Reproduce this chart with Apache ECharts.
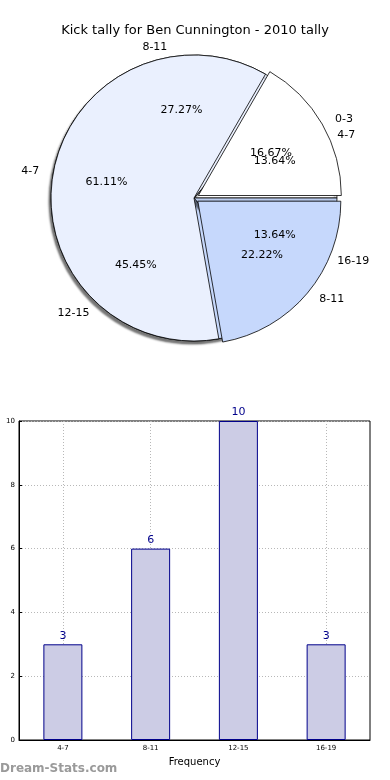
<!DOCTYPE html>
<html><head><meta charset="utf-8">
<script src="https://cdn.jsdelivr.net/npm/echarts@6/dist/echarts.min.js"></script>
<style>html,body{margin:0;padding:0;background:#fff}#c{width:390px;height:780px}</style>
</head><body><div id="c"></div>
<script>
// Pie A: kick tally ranges (same as bar chart)
const kickRanges = ['4-7', '8-11', '12-15', '16-19'];
const kickCounts = [3, 6, 10, 3];
// Pie B: second overlaid tally
const otherRanges = ['0-3', '4-7', '8-11'];
const otherCounts = [3, 11, 4];
// Bar chart ticks
const yTicks = [0, 2, 4, 6, 8, 10];

const LIGHT = '#eaf0fe', BLUE = '#c6d8fc', WHITE = '#ffffff';
const colorsA = [WHITE, LIGHT, BLUE, BLUE];
const colorsB = [WHITE, LIGHT, BLUE];
const explodeB = [true, false, true];

const C = [194, 198], R = 143;
const font = 'DejaVu Sans';

function pieData(names, vals, colors, sel) {
  return names.map((n, i) => ({
    name: n, value: vals[i],
    selected: sel ? sel[i] : false,
    itemStyle: { color: colors ? colors[i] : 'rgba(0,0,0,0)' }
  }));
}
const pct = p => p.percent.toFixed(2) + '%';
const outsideLabel = { show: true, position: 'outside', color: '#000', fontSize: 11, fontFamily: font };
const noLine = { show: false, length: 9, length2: 0 };
const pctLabel = { show: true, position: 'inside', formatter: pct, color: '#000', fontSize: 11, fontFamily: font, overflow: 'none' };

const chart = echarts.init(document.getElementById('c'), null, { renderer: 'canvas' });
chart.setOption({
  animation: false,
  title: {
    text: 'Kick tally for Ben Cunnington - 2010 tally',
    left: 'center', top: 19,
    textStyle: { fontSize: 13, fontWeight: 'normal', color: '#000', fontFamily: font }
  },
  grid: { left: 19, right: 20, top: 421, bottom: 40, show: true, borderColor: '#000', borderWidth: 1, outerBoundsMode: 'none', containLabel: false },
  xAxis: {
    type: 'category', data: kickRanges, boundaryGap: true,
    name: 'Frequency', nameLocation: 'middle', nameGap: 17,
    nameTextStyle: { fontSize: 10, color: '#000', fontFamily: font },
    axisLine: { lineStyle: { color: '#000' } },
    axisTick: { show: false },
    axisLabel: { fontSize: 7, color: '#000', margin: 5, fontFamily: font },
    splitLine: { show: true, alignWithLabel: true, lineStyle: { color: '#b8b8b8', type: [1, 2] } }
  },
  yAxis: {
    type: 'value', min: yTicks[0], max: yTicks[yTicks.length - 1], interval: 2,
    name: 'Games Played', nameLocation: 'middle', nameGap: 16,
    nameTextStyle: { fontSize: 10, color: '#000', fontFamily: font },
    axisLine: { show: true, lineStyle: { color: '#000' } },
    axisTick: { show: true, inside: true, length: 3, lineStyle: { color: '#000' } },
    axisLabel: { fontSize: 7, color: '#000', margin: 4, fontFamily: font },
    splitLine: { show: true, lineStyle: { color: '#b8b8b8', type: [1, 2] } }
  },
  series: [
    {
      type: 'pie', center: C, radius: R, startAngle: 0, clockwise: false,
      silent: true, avoidLabelOverlap: false, selectedMode: false,
      data: pieData(kickRanges, kickCounts, colorsA),
      itemStyle: { borderColor: '#000', borderWidth: 0.8, shadowColor: 'rgba(0,0,0,0.55)', shadowBlur: 2, shadowOffsetX: -2, shadowOffsetY: 3 },
      label: outsideLabel, labelLine: noLine, labelLayout: { hideOverlap: false },
      emphasis: { disabled: true }, z: 1
    },
    {
      type: 'pie', center: C, radius: R, startAngle: 0, clockwise: false,
      silent: true, avoidLabelOverlap: false, selectedMode: 'multiple', selectedOffset: 5,
      data: pieData(otherRanges, otherCounts, colorsB, explodeB),
      itemStyle: { borderColor: '#000', borderWidth: 0.8 },
      label: outsideLabel, labelLine: noLine, labelLayout: { hideOverlap: false },
      emphasis: { disabled: true }, z: 2
    },
    {
      type: 'pie', center: C, radius: R * 1.2, startAngle: 0, clockwise: false,
      silent: true, avoidLabelOverlap: false,
      data: pieData(kickRanges, kickCounts, null),
      itemStyle: { borderWidth: 0 },
      label: pctLabel, labelLine: { show: false }, labelLayout: { hideOverlap: false },
      emphasis: { disabled: true }, z: 3
    },
    {
      type: 'pie', center: C, radius: R * 1.2, startAngle: 0, clockwise: false,
      silent: true, avoidLabelOverlap: false,
      data: pieData(otherRanges, otherCounts, null),
      itemStyle: { borderWidth: 0 },
      label: pctLabel, labelLine: { show: false }, labelLayout: { hideOverlap: false },
      emphasis: { disabled: true }, z: 3
    },
    {
      type: 'bar', data: kickCounts, barWidth: 39,
      itemStyle: { color: '#cccce5', borderColor: '#00008b', borderWidth: 1 },
      label: { show: true, position: 'top', color: '#00008b', fontSize: 11, distance: 3, fontFamily: font },
      emphasis: { disabled: true }, z: 2
    }
  ],
  graphic: [{
    type: 'text', left: 0, top: 763,
    style: { text: 'Dream-Stats.com', fill: '#9a9a9a', fontSize: 12, fontWeight: 'bold', fontFamily: font }
  }]
});
</script></body></html>
